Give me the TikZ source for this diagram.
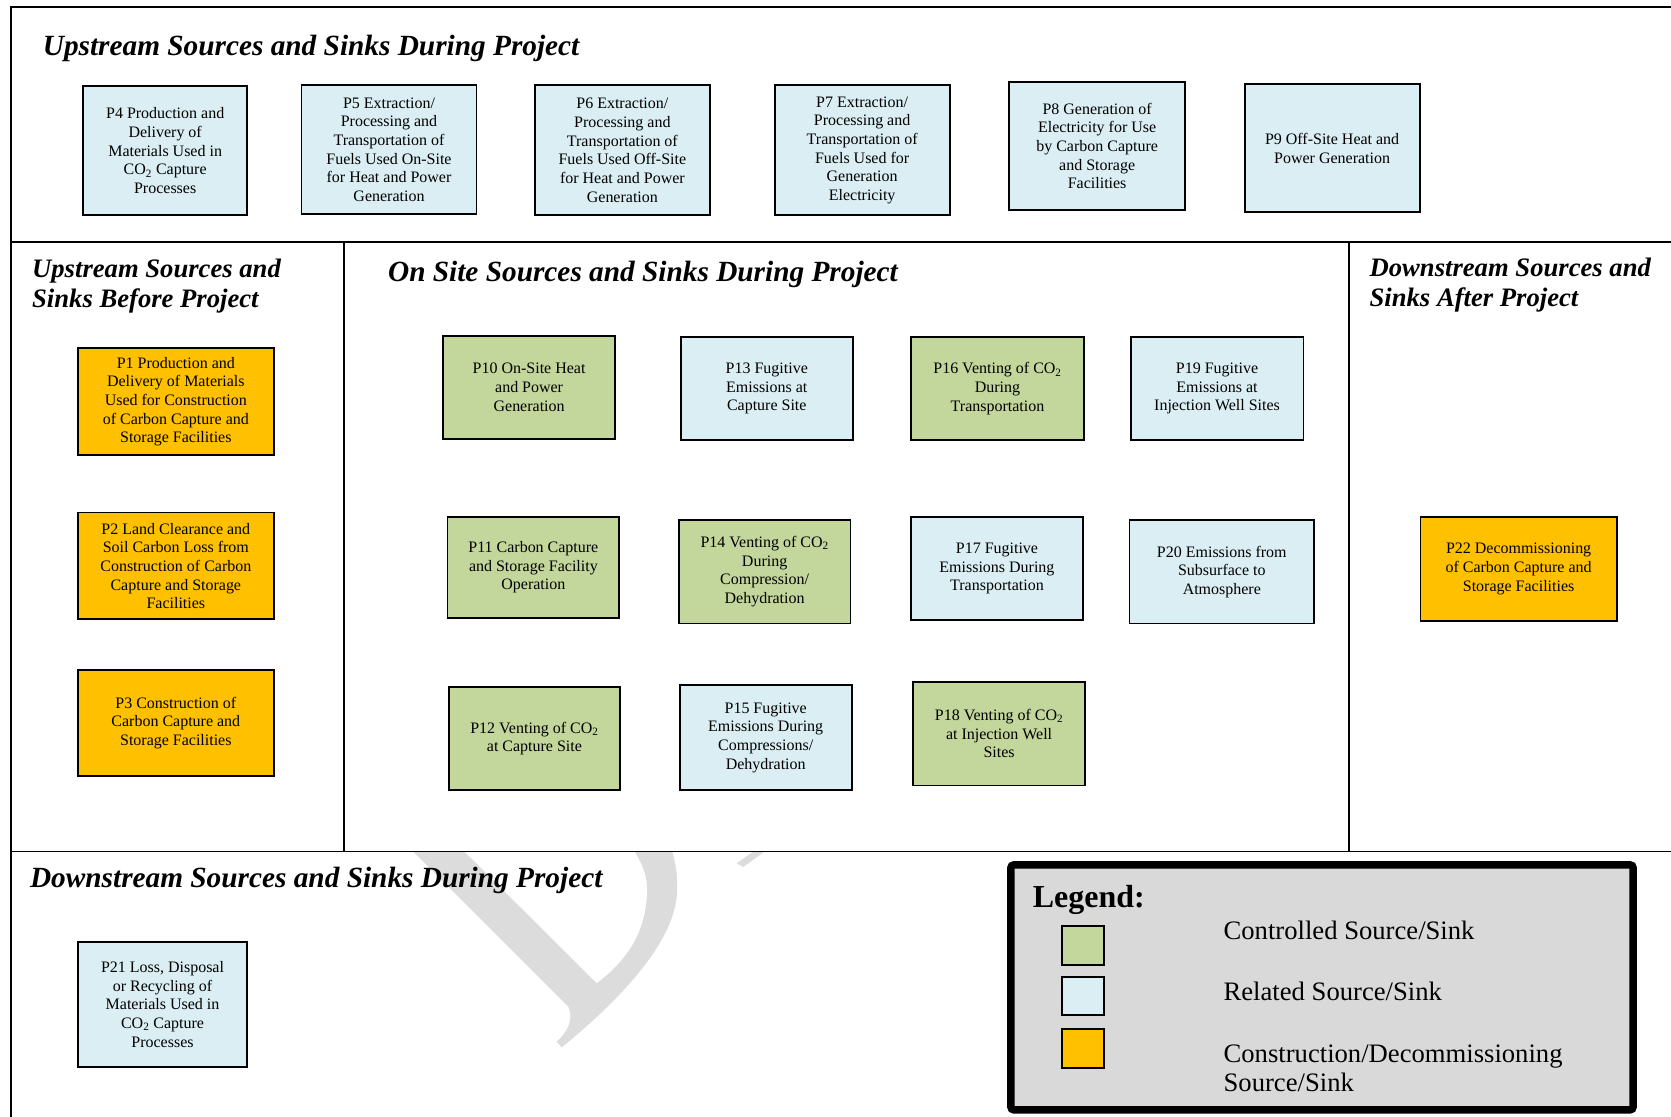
\documentclass[tikz,border=0pt]{standalone}
\usepackage{fontspec}
\setmainfont{Liberation Serif}
\definecolor{ctlgreen}{HTML}{C3D69B}
\definecolor{relblue}{HTML}{DAEEF3}
\definecolor{conorange}{HTML}{FFC000}
\definecolor{leggray}{HTML}{D9D9D9}
\definecolor{wmgray}{HTML}{DCDCDC}
\tikzset{
  pbase/.style={draw=black, line width=1.8pt, inner sep=0pt, align=center,
    font=\fontsize{15}{17.5}\selectfont},
  ctl/.style={pbase, fill=ctlgreen},
  rel/.style={pbase, fill=relblue},
  con/.style={pbase, fill=conorange},
  ttl/.style={anchor=base west, inner sep=0pt, font=\fontsize{27.5}{30}\selectfont\bfseries\itshape},
  sttl/.style={anchor=base west, inner sep=0pt, font=\fontsize{25}{28}\selectfont\bfseries\itshape},
  frame/.style={line width=1.9pt, line cap=butt},
  divider/.style={line width=1.6pt},
  legbox/.style={draw=black, fill=leggray, line width=7pt, rounded corners=3pt, inner sep=0pt},
  swatch/.style={draw=black, line width=1.8pt, inner sep=0pt},
  legtxt/.style={anchor=base west, inner sep=0pt, font=\fontsize{25}{29}\selectfont},
}
% name, style, x1, y1, x2, y2, text
\newcommand{\pbox}[7]{\node[#2, minimum width={(#5-#3-1.8)*1pt}, minimum height={(#6-#4-1.8)*1pt}] (#1) at ({(#3+#5)/2},{(#4+#6)/2}) {#7};}
\begin{document}
\begin{tikzpicture}[x=1pt, y=-1pt]
\useasboundingbox (0,0) rectangle (1568,1048);
\fill[white] (0,0) rectangle (1568,1048);

% watermark fragment (clipped to the lower band)
\begin{scope}
  \clip (10,799) rectangle (1568,1048);
  \begin{scope}[x=0.93835pt, y=-0.93835pt]
    \fill[wmgray] (413.3,851.7) -- (568.3,1006.7)
      .. controls (574,1018) and (568,1032) .. (556.7,1041.7) -- (561.7,1047.3)
      .. controls (620,1000) and (677,940) .. (677,890)
      .. controls (678,875) and (675,862) .. (671.7,849)
      -- (633.3,849)
      .. controls (645,868) and (648,880) .. (647,895)
      .. controls (645,935) and (625,962) .. (596.7,983.3)
      -- (461.7,849) -- (410.6,849) -- cycle;
    \fill[wmgray] (736.7,863.3) -- (743.3,867) -- (768,849) -- (757,849) -- cycle;
  \end{scope}
\end{scope}

% frame and dividers
\draw[frame] (1568,6.5) -- (10,6.5) -- (10,1048);
\draw[divider] (10,227) -- (1568,227);
\draw[divider] (10,799) -- (1568,799);
\draw[divider] (323,227) -- (323,799);
\draw[divider] (1266,227) -- (1266,799);

% section titles
\node[ttl] (t1) at (40,52) {Upstream Sources and Sinks During Project};
\node[sttl] (t2a) at (30,260.5) {Upstream Sources and};
\node[sttl] (t2b) at (30,288.5) {Sinks Before Project};
\node[ttl] (t3) at (364,264) {On Site Sources and Sinks During Project};
\node[sttl] (t4a) at (1285,259.5) {Downstream Sources and};
\node[sttl] (t4b) at (1285,287.5) {Sinks After Project};
\node[ttl] (t5) at (28,833) {Downstream Sources and Sinks During Project};

% upstream during project
\pbox{p4}{rel}{77}{80}{233}{203}{P4 Production and\\Delivery of\\Materials Used in\\CO\textsubscript{2} Capture\\Processes}
\pbox{p5}{rel}{282}{79}{448}{202}{P5 Extraction/\\Processing and\\Transportation of\\Fuels Used On-Site\\for Heat and Power\\Generation}
\pbox{p6}{rel}{501}{79}{667}{203}{P6 Extraction/\\Processing and\\Transportation of\\Fuels Used Off-Site\\for Heat and Power\\Generation}
\pbox{p7}{rel}{726}{79}{892}{203}{P7 Extraction/\\Processing and\\Transportation of\\Fuels Used for\\Generation\\Electricity}
\pbox{p8}{rel}{946}{76}{1113}{198}{P8 Generation of\\Electricity for Use\\by Carbon Capture\\and Storage\\Facilities}
\pbox{p9}{rel}{1167}{78}{1333}{200}{P9 Off-Site Heat and\\Power Generation}

% upstream before project
\pbox{p1}{con}{72}{326}{258}{428}{P1 Production and\\Delivery of Materials\\Used for Construction\\of Carbon Capture and\\Storage Facilities}
\pbox{p2}{con}{72}{480}{258}{582}{P2 Land Clearance and\\Soil Carbon Loss from\\Construction of Carbon\\Capture and Storage\\Facilities}
\pbox{p3}{con}{72}{628}{258}{729}{P3 Construction of\\Carbon Capture and\\Storage Facilities}

% on site
\pbox{p10}{ctl}{415}{314}{578}{413}{P10 On-Site Heat\\and Power\\Generation}
\pbox{p13}{rel}{638}{315}{801}{414}{P13 Fugitive\\Emissions at\\Capture Site}
\pbox{p16}{ctl}{854}{315}{1018}{414}{P16 Venting of CO\textsubscript{2}\\During\\Transportation}
\pbox{p19}{rel}{1060}{315}{1224}{414}{P19 Fugitive\\Emissions at\\Injection Well Sites}
\pbox{p11}{ctl}{419}{484}{582}{581}{P11 Carbon Capture\\and Storage Facility\\Operation}
\pbox{p14}{ctl}{636}{487}{799}{586}{P14 Venting of CO\textsubscript{2}\\During\\Compression/\\Dehydration}
\pbox{p17}{rel}{854}{484}{1017}{583}{P17 Fugitive\\Emissions During\\Transportation}
\pbox{p20}{rel}{1059}{487}{1234}{586}{P20 Emissions from\\Subsurface to\\Atmosphere}
\pbox{p12}{ctl}{420}{644}{583}{742}{P12 Venting of CO\textsubscript{2}\\at Capture Site}
\pbox{p15}{rel}{637}{642}{800}{742}{P15 Fugitive\\Emissions During\\Compressions/\\Dehydration}
\pbox{p18}{ctl}{856}{639}{1019}{738}{P18 Venting of CO\textsubscript{2}\\at Injection Well\\Sites}

% downstream after project
\pbox{p22}{con}{1332}{484}{1518}{584}{P22 Decommissioning\\of Carbon Capture and\\Storage Facilities}

% downstream during project
\pbox{p21}{rel}{72}{883}{233}{1002}{P21 Loss, Disposal\\or Recycling of\\Materials Used in\\CO\textsubscript{2} Capture\\Processes}

% legend
\node[legbox, minimum width=584pt, minimum height=230pt] (legend) at (1240.5,926.5) {};
\node[anchor=base west, inner sep=0pt, font=\fontsize{30}{34}\selectfont\bfseries] (legtitle) at (969,851.5) {Legend:};
\pbox{sw1}{swatch, fill=ctlgreen}{996}{868}{1037}{906}{}
\pbox{sw2}{swatch, fill=relblue}{996}{915.5}{1037}{953.5}{}
\pbox{sw3}{swatch, fill=conorange}{996}{965}{1037}{1003}{}
\node[legtxt] (l1) at (1148,882) {Controlled Source/Sink};
\node[legtxt] (l2) at (1148,938.5) {Related Source/Sink};
\node[legtxt] (l3a) at (1148,997) {Construction/Decommissioning};
\node[legtxt] (l3b) at (1148,1024) {Source/Sink};
\end{tikzpicture}
\end{document}
